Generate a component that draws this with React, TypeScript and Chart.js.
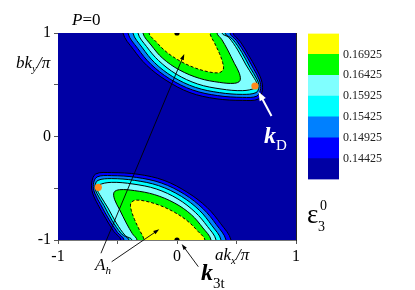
import React, { useEffect, useRef } from 'react';
import { Chart, registerables } from 'chart.js';

Chart.register(...registerables);

const SERIF = '"Liberation Serif", "DejaVu Serif", serif';
Chart.defaults.font.family = SERIF;

// axis ticks
const axisTickLabels = ['-1', '', '0', '', '1'];

// colour bar: contour levels (low -> high) and band colours
const levelLabels = ['0.14425', '0.14925', '0.15425', '0.15925', '0.16425', '0.16925'];
const bandColors = ['#0000A4', '#0000FF', '#0080FF', '#00FFFF', '#80FFFF', '#00FF00', '#FFFF00'];

// upper pocket contours (akx/pi, bky/pi), closed above the top edge
const up14425 = [[-0.454, 1.25], [-0.454, 1.0], [-0.367, 0.842], [-0.255, 0.688], [-0.092, 0.543], [0.109, 0.424], [0.328, 0.365], [0.552, 0.349], [0.683, 0.362], [0.717, 0.449], [0.709, 0.546], [0.664, 0.659], [0.599, 0.791], [0.532, 0.916], [0.471, 1.0], [0.471, 1.25]];
const up14925 = [[-0.412, 1.25], [-0.412, 1.0], [-0.331, 0.852], [-0.221, 0.700], [-0.064, 0.559], [0.132, 0.449], [0.342, 0.395], [0.552, 0.378], [0.672, 0.391], [0.703, 0.462], [0.692, 0.546], [0.641, 0.659], [0.574, 0.797], [0.501, 0.926], [0.445, 1.0], [0.445, 1.25]];
const up15425 = [[-0.370, 1.25], [-0.370, 1.0], [-0.294, 0.862], [-0.188, 0.713], [-0.036, 0.578], [0.154, 0.475], [0.356, 0.424], [0.552, 0.407], [0.664, 0.424], [0.689, 0.481], [0.672, 0.552], [0.613, 0.668], [0.546, 0.810], [0.468, 0.939], [0.403, 1.0], [0.403, 1.25]];
const up15925 = [[-0.328, 1.25], [-0.328, 1.0], [-0.255, 0.868], [-0.154, 0.733], [-0.008, 0.604], [0.174, 0.507], [0.370, 0.459], [0.552, 0.443], [0.658, 0.469], [0.672, 0.507], [0.641, 0.578], [0.580, 0.691], [0.510, 0.836], [0.434, 0.958], [0.378, 1.0], [0.378, 1.25]];
const up16425 = [[-0.286, 1.25], [-0.286, 1.0], [-0.218, 0.884], [-0.120, 0.755], [0.020, 0.643], [0.188, 0.562], [0.356, 0.523], [0.482, 0.514], [0.529, 0.539], [0.524, 0.610], [0.482, 0.707], [0.426, 0.836], [0.375, 0.939], [0.336, 1.0], [0.336, 1.25]];
const up16925 = [[-0.235, 1.25], [-0.235, 1.0], [-0.176, 0.916], [-0.092, 0.820], [0.020, 0.733], [0.146, 0.665], [0.272, 0.623], [0.356, 0.617], [0.389, 0.649], [0.384, 0.713], [0.356, 0.804], [0.317, 0.900], [0.277, 1.0], [0.277, 1.25]];

// lower pocket contours, closed below the bottom edge
const lo14425 = [[0.454, -1.25], [0.454, -1.0], [0.367, -0.842], [0.255, -0.688], [0.092, -0.543], [-0.109, -0.424], [-0.328, -0.365], [-0.552, -0.349], [-0.683, -0.362], [-0.717, -0.449], [-0.709, -0.546], [-0.664, -0.659], [-0.599, -0.791], [-0.532, -0.916], [-0.471, -1.0], [-0.471, -1.25]];
const lo14925 = [[0.412, -1.25], [0.412, -1.0], [0.331, -0.852], [0.221, -0.700], [0.064, -0.559], [-0.132, -0.449], [-0.342, -0.395], [-0.552, -0.378], [-0.672, -0.391], [-0.703, -0.462], [-0.692, -0.546], [-0.641, -0.659], [-0.574, -0.797], [-0.501, -0.926], [-0.445, -1.0], [-0.445, -1.25]];
const lo15425 = [[0.370, -1.25], [0.370, -1.0], [0.294, -0.862], [0.188, -0.713], [0.036, -0.578], [-0.154, -0.475], [-0.356, -0.424], [-0.552, -0.407], [-0.664, -0.424], [-0.689, -0.481], [-0.672, -0.552], [-0.613, -0.668], [-0.546, -0.810], [-0.468, -0.939], [-0.403, -1.0], [-0.403, -1.25]];
const lo15925 = [[0.328, -1.25], [0.328, -1.0], [0.255, -0.868], [0.154, -0.733], [0.008, -0.604], [-0.174, -0.507], [-0.370, -0.459], [-0.552, -0.443], [-0.658, -0.469], [-0.672, -0.507], [-0.641, -0.578], [-0.580, -0.691], [-0.510, -0.836], [-0.434, -0.958], [-0.378, -1.0], [-0.378, -1.25]];
const lo16425 = [[0.286, -1.25], [0.286, -1.0], [0.218, -0.884], [0.120, -0.755], [-0.020, -0.643], [-0.188, -0.562], [-0.356, -0.523], [-0.482, -0.514], [-0.529, -0.539], [-0.524, -0.610], [-0.482, -0.707], [-0.426, -0.836], [-0.375, -0.939], [-0.336, -1.0], [-0.336, -1.25]];
const lo16925 = [[0.235, -1.25], [0.235, -1.0], [0.176, -0.916], [0.092, -0.820], [-0.020, -0.733], [-0.146, -0.665], [-0.272, -0.623], [-0.356, -0.617], [-0.389, -0.649], [-0.384, -0.713], [-0.356, -0.804], [-0.317, -0.900], [-0.277, -1.0], [-0.277, -1.25]];

const upperContours = [up14425, up14925, up15425, up15925, up16425, up16925];
const lowerContours = [lo14425, lo14925, lo15425, lo15925, lo16425, lo16925];

// marked points
const kDPoints = [[0.655, 0.488], [-0.661, -0.491]];
const k3tPoints = [[0, 1], [0, -1]];

// annotation arrows (from, to) in axis units
const arrowAhUpper = [[-0.639, -1.128], [0.061, 0.797]];
const arrowAhLower = [[-0.549, -1.21], [-0.149, -0.897]];
const arrowK3t = [[0.179, -1.258], [0.039, -1.039]];
const arrowKD = [[0.794, 0.198], [0.685, 0.433]];

const toPts = (a: number[][]) => a.map(([x, y]) => ({ x, y }));

function drawArrow(ctx: CanvasRenderingContext2D, x0: number, y0: number, x1: number, y1: number, color: string, lw: number, hl: number, hw: number) {
  const ang = Math.atan2(y1 - y0, x1 - x0);
  ctx.save();
  ctx.strokeStyle = color;
  ctx.fillStyle = color;
  ctx.lineWidth = lw;
  ctx.beginPath();
  ctx.moveTo(x0, y0);
  ctx.lineTo(x1 - Math.cos(ang) * hl * 0.6, y1 - Math.sin(ang) * hl * 0.6);
  ctx.stroke();
  ctx.beginPath();
  ctx.moveTo(x1, y1);
  ctx.lineTo(x1 - Math.cos(ang) * hl + Math.sin(ang) * hw / 2, y1 - Math.sin(ang) * hl - Math.cos(ang) * hw / 2);
  ctx.lineTo(x1 - Math.cos(ang) * hl - Math.sin(ang) * hw / 2, y1 - Math.sin(ang) * hl + Math.cos(ang) * hw / 2);
  ctx.closePath();
  ctx.fill();
  ctx.restore();
}

const bgPlugin = {
  id: 'areaBg',
  beforeDatasetsDraw(chart: any) {
    const { ctx, chartArea: a } = chart;
    ctx.save();
    ctx.fillStyle = bandColors[0];
    ctx.fillRect(a.left, a.top, a.right - a.left, a.bottom - a.top);
    ctx.restore();
  },
};

const arrowPlugin = {
  id: 'arrows',
  afterDatasetsDraw(chart: any) {
    const { ctx } = chart;
    const sx = chart.scales.x, sy = chart.scales.y;
    const P = (p: number[]) => [sx.getPixelForValue(p[0]), sy.getPixelForValue(p[1])];
    const list: [number[][], string, number, number, number][] = [
      [arrowAhUpper, '#000', 0.9, 6, 4],
      [arrowAhLower, '#000', 0.9, 6, 4],
      [arrowK3t, '#000', 0.9, 6, 4],
      [arrowKD, '#fff', 2, 9, 7],
    ];
    list.forEach(([ar, c, lw, hl, hw]) => {
      const [a, b] = [P(ar[0]), P(ar[1])];
      drawArrow(ctx, a[0], a[1], b[0], b[1], c, lw, hl, hw);
    });
  },
};

function seq(ctx: CanvasRenderingContext2D, x: number, parts: [string, string, number, string?][]) {
  let cx = x;
  parts.forEach(([s, font, y, color]) => {
    ctx.font = font;
    ctx.fillStyle = color || '#000';
    ctx.fillText(s, cx, y);
    cx += ctx.measureText(s).width;
  });
}

const textPlugin = {
  id: 'texts',
  afterDraw(chart: any) {
    const ctx: CanvasRenderingContext2D = chart.ctx;
    ctx.save();
    ctx.textBaseline = 'alphabetic';
    ctx.textAlign = 'left';
    const it17 = `italic 17px ${SERIF}`;
    const it11 = `italic 11px ${SERIF}`;
    seq(ctx, 72, [['P', it17, 25], ['=0', `17px ${SERIF}`, 25]]);
    seq(ctx, 16, [['bk', it17, 68], ['y', it11, 72], ['/\u03c0', it17, 68]]);
    seq(ctx, 215, [['ak', it17, 260], ['x', it11, 264], ['/\u03c0', it17, 260]]);
    seq(ctx, 95, [['A', it17, 270], ['h', it11, 274]]);
    seq(ctx, 201, [['k', `bold italic 24px ${SERIF}`, 280], ['3t', `15px ${SERIF}`, 288]]);
    seq(ctx, 264, [['k', `bold italic 24px ${SERIF}`, 143, '#fff'], ['D', `15px ${SERIF}`, 150, '#fff']]);
    ctx.font = `27px ${SERIF}`;
    ctx.fillStyle = '#000';
    ctx.fillText('\u03b5', 307, 223);
    ctx.font = `14px ${SERIF}`;
    ctx.fillText('0', 320, 210);
    ctx.fillText('3', 318, 231);
    ctx.restore();
  },
};

export default function App() {
  const mainRef = useRef<HTMLCanvasElement>(null);
  const barRef = useRef<HTMLCanvasElement>(null);

  useEffect(() => {
    const datasets: any[] = [];
    const pushContours = (set: number[][][]) => {
      set.forEach((c, i) => {
        datasets.push({
          data: toPts(c),
          showLine: true,
          fill: 'shape',
          backgroundColor: bandColors[i + 1],
          borderColor: '#000',
          borderWidth: 1,
          borderDash: i === 5 ? [3, 2] : [],
          pointRadius: 0,
          tension: 0.35,
          order: 20 - i,
          clip: 0,
        });
      });
    };
    pushContours(upperContours);
    pushContours(lowerContours);
    datasets.push({
      data: toPts(k3tPoints),
      showLine: false,
      pointRadius: 2.6,
      pointBackgroundColor: '#000',
      pointBorderWidth: 0,
      order: 1,
      clip: 0,
    });
    datasets.push({
      data: toPts(kDPoints),
      showLine: false,
      pointRadius: 3.6,
      pointBackgroundColor: '#FF8A1E',
      pointBorderWidth: 0,
      order: 0,
    });

    const axisCommon = {
      type: 'linear',
      min: -1,
      max: 1,
      ticks: {
        stepSize: 0.5,
        autoSkip: false,
        maxRotation: 0,
        callback: (_v: any, i: number) => axisTickLabels[i],
        font: { family: SERIF, size: 16 },
        color: '#000',
        padding: 3,
      },
      grid: { display: true, drawOnChartArea: false, drawTicks: true, tickLength: 4, color: '#555' },
      z: 1,
    };

    const main = new Chart(mainRef.current!, {
      type: 'scatter',
      data: { datasets },
      options: {
        animation: false,
        responsive: false,
        events: [],
        layout: { padding: { left: 0, right: 119, top: 33, bottom: 0 } },
        plugins: { legend: { display: false }, tooltip: { enabled: false } },
        scales: {
          x: {
            ...axisCommon,
            position: 'bottom',
            border: { display: true, color: '#777', width: 1 },
            afterFit: (s: any) => { s.height = 50; },
          },
          y: {
            ...axisCommon,
            position: 'left',
            border: { display: true, color: '#444', width: 1 },
            afterFit: (s: any) => { s.width = 58; },
          },
          x2: {
            type: 'linear', min: -1, max: 1, position: 'top',
            ticks: { display: false }, grid: { display: false, drawTicks: false },
            border: { display: true, color: '#777', width: 1 }, z: 1,
            afterFit: (s: any) => { s.height = 0; },
          },
          y2: {
            type: 'linear', min: -1, max: 1, position: 'right',
            ticks: { display: false }, grid: { display: false, drawTicks: false },
            border: { display: true, color: '#222', width: 1 }, z: 1,
            afterFit: (s: any) => { s.width = 0; },
          },
        },
      } as any,
      plugins: [bgPlugin, arrowPlugin, textPlugin],
    });

    const bar = new Chart(barRef.current!, {
      type: 'bar',
      data: {
        labels: [''],
        datasets: bandColors.map((c) => ({
          data: [1],
          backgroundColor: c,
          borderWidth: 0,
          barPercentage: 1,
          categoryPercentage: 1,
        })),
      },
      options: {
        animation: false,
        responsive: false,
        events: [],
        layout: { padding: { left: 8, top: 13.5, bottom: 15.5, right: 0 } },
        plugins: { legend: { display: false }, tooltip: { enabled: false } },
        scales: {
          x: { stacked: true, display: false },
          y: {
            stacked: true,
            position: 'right',
            min: 0,
            max: 7,
            ticks: {
              stepSize: 1,
              autoSkip: false,
              callback: (v: any) => (v >= 1 && v <= 6 ? levelLabels[v - 1] : ''),
              font: { family: SERIF, size: 12 },
              color: '#222',
              padding: 4,
            },
            grid: { display: false, drawTicks: false },
            border: { display: false },
            afterFit: (s: any) => { s.width = 76; },
          },
        },
      } as any,
    });

    return () => {
      main.destroy();
      bar.destroy();
    };
  }, []);

  return (
    <div style={{ position: 'fixed', left: 0, top: 0, width: 415, height: 290, background: '#fff' }}>
      <canvas ref={mainRef} width={415} height={290} style={{ position: 'absolute', left: 0, top: 0 }} />
      <canvas ref={barRef} width={115} height={175} style={{ position: 'absolute', left: 300, top: 20 }} />
    </div>
  );
}
